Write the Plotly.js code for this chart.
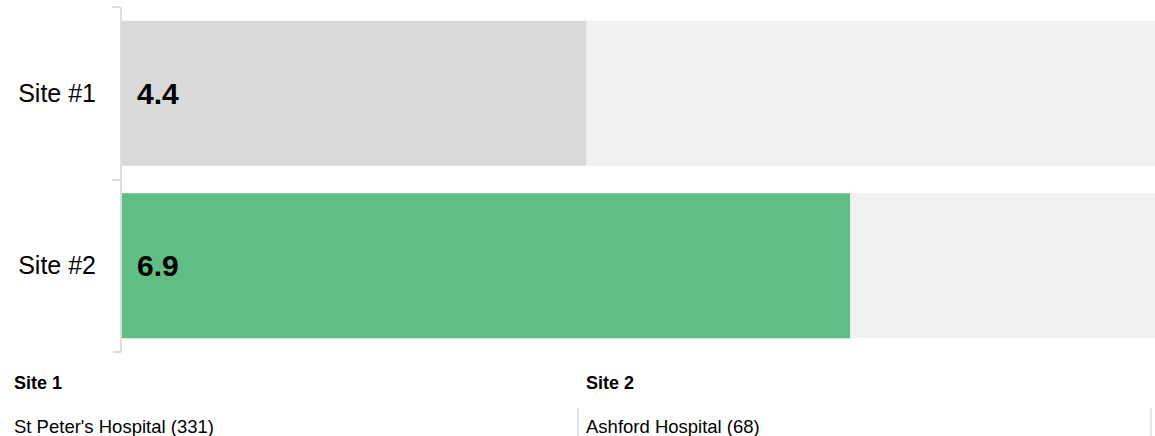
<!DOCTYPE html>
<html>
<head>
<meta charset="utf-8">
<script src="https://cdn.plot.ly/plotly-3.0.1.min.js"></script>
<style>html,body{margin:0;padding:0;background:#fff;}#chart{width:1155px;height:436px;}</style>
</head>
<body>
<div id="chart"></div>
<script>
const categories = ["Site #1", "Site #2"];
const values = [4.4, 6.9];
const maxValue = 10;
const barColors = ["#d9d9d9", "#5fbe85"];
const siteTitles = ["Site 1", "Site 2"];
const siteNames = ["St Peter's Hospital (331)", "Ashford Hospital (68)"];

const FONT = "Liberation Sans, Arial, sans-serif";

const bgTrace = {
  type: "bar", orientation: "h",
  y: categories, x: categories.map(() => maxValue),
  marker: {color: "#f1f1f1"},
  hoverinfo: "skip", showlegend: false
};
const fgTrace = {
  type: "bar", orientation: "h",
  y: categories, x: values,
  marker: {color: barColors},
  hoverinfo: "skip", showlegend: false
};

const W = 1155 - 122, H = 352 - 7;
const px = x => (x - 122) / W;
const py = y => (352 - y) / H;

const annotations = values.map((v, i) => ({
  x: 0, y: categories[i], xref: "x", yref: "y",
  text: "<b>" + v.toFixed(1) + "</b>",
  showarrow: false, xanchor: "left", yanchor: "middle", xshift: 13,
  font: {family: FONT, size: 30, color: "#000"}
}));
const colX = [12, 584];
siteTitles.forEach((t, i) => {
  annotations.push({
    x: px(colX[i]), y: py(383), xref: "paper", yref: "paper",
    text: "<b>" + t + "</b>", showarrow: false, xanchor: "left", yanchor: "middle",
    font: {family: FONT, size: 18, color: "#000"}
  });
  annotations.push({
    x: px(colX[i]), y: py(426), xref: "paper", yref: "paper",
    text: siteNames[i], showarrow: false, xanchor: "left", yanchor: "middle",
    font: {family: FONT, size: 18.5, color: "#000"}
  });
});

const shapes = [578, 1151].map(x => ({
  type: "line", xref: "paper", yref: "paper",
  x0: px(x), x1: px(x), y0: py(408), y1: py(437),
  line: {color: "#cccccc", width: 1}
}));
// bottom boundary tick of the y axis
shapes.push({
  type: "line", xref: "paper", yref: "paper",
  x0: px(113), x1: px(121), y0: 0, y1: 0,
  line: {color: "#dddddd", width: 2}
});

const layout = {
  width: 1155, height: 436,
  margin: {l: 122, r: 0, t: 7, b: 84},
  paper_bgcolor: "#fff", plot_bgcolor: "#fff",
  barmode: "overlay", bargap: 0.16,
  showlegend: false,
  font: {family: FONT, color: "#000"},
  xaxis: {range: [0, 9.79], visible: false, fixedrange: true},
  yaxis: {
    type: "category", range: [1.5001, -0.5001],
    showline: true, linecolor: "#dddddd", linewidth: 2,
    ticks: "outside", tickson: "boundaries", ticklen: 8, tickwidth: 2, tickcolor: "#dddddd",
    ticklabelstandoff: 19,
    showgrid: false, zeroline: false,
    tickfont: {family: FONT, size: 25, color: "#000"},
    fixedrange: true
  },
  annotations: annotations,
  shapes: shapes
};

Plotly.newPlot("chart", [bgTrace, fgTrace], layout, {displayModeBar: false, staticPlot: true});
</script>
</body>
</html>
